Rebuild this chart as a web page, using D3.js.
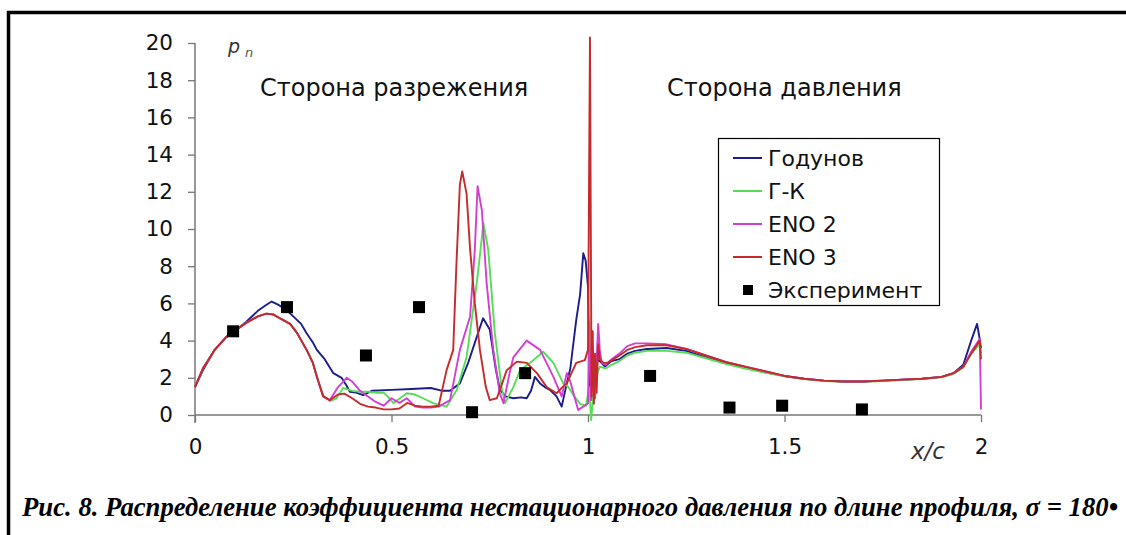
<!DOCTYPE html>
<html><head><meta charset="utf-8">
<script src="https://cdn.jsdelivr.net/npm/d3@7"></script>
<style>body{margin:0;background:#fff}svg{display:block}</style>
</head><body><svg id="c" width="1126" height="535"></svg>
<script>
const xTicks = [0, 0.5, 1, 1.5, 2];
const xTickLabels = ["0", "0.5", "1", "1.5", "2"];
const yTicks = [0, 2, 4, 6, 8, 10, 12, 14, 16, 18, 20];
const seriesNames = ["Годунов", "Г-К", "ENO 2", "ENO 3"];
const expName = "Эксперимент";

const godunov = [[0,1.5],[0.02,2.4],[0.05,3.5],[0.08,4.2],[0.1,4.5],[0.13,5.0],[0.16,5.6],[0.18,5.9],[0.195,6.1],[0.21,5.95],[0.23,5.7],[0.25,5.3],[0.27,4.9],[0.284,4.4],[0.3,3.9],[0.31,3.5],[0.33,3.0],[0.352,2.25],[0.373,2.0],[0.385,1.6],[0.394,1.25],[0.41,1.2],[0.428,1.07],[0.45,1.3],[0.5,1.35],[0.55,1.4],[0.6,1.45],[0.63,1.3],[0.649,1.3],[0.674,1.7],[0.695,2.8],[0.717,4.2],[0.733,5.2],[0.75,4.6],[0.765,2.5],[0.776,1.35],[0.79,1.0],[0.81,0.9],[0.83,0.95],[0.844,0.9],[0.855,1.3],[0.865,2.05],[0.878,1.7],[0.89,1.5],[0.903,1.35],[0.92,1.0],[0.933,0.45],[0.946,1.7],[0.955,2.5],[0.97,5.1],[0.98,6.5],[0.988,8.7],[0.994,8.3],[1.0,6.9],[1.003,3.0],[1.005,1.5],[1.01,2.4],[1.02,3.0],[1.03,2.9],[1.043,2.6],[1.06,2.9],[1.08,3.0],[1.1,3.3],[1.12,3.45],[1.15,3.55],[1.2,3.6],[1.25,3.45],[1.3,3.1],[1.35,2.8],[1.4,2.55],[1.45,2.3],[1.5,2.1],[1.55,1.95],[1.6,1.85],[1.65,1.8],[1.7,1.8],[1.75,1.85],[1.8,1.9],[1.85,1.95],[1.9,2.05],[1.93,2.25],[1.955,2.7],[1.975,4.0],[1.99,4.9],[1.995,4.3],[2.0,3.6]];

const gk = [[0,1.5],[0.02,2.5],[0.05,3.5],[0.08,4.2],[0.1,4.5],[0.13,4.95],[0.16,5.3],[0.182,5.45],[0.2,5.4],[0.22,5.15],[0.242,4.9],[0.26,4.4],[0.284,3.5],[0.3,2.8],[0.31,2.1],[0.326,1.05],[0.343,0.75],[0.36,0.9],[0.377,1.45],[0.4,1.3],[0.42,1.25],[0.44,1.25],[0.46,1.2],[0.48,1.2],[0.49,1.0],[0.505,0.64],[0.539,1.17],[0.56,1.1],[0.58,0.9],[0.606,0.64],[0.64,0.45],[0.666,1.34],[0.691,3.1],[0.717,7.1],[0.734,10.3],[0.746,8.9],[0.763,4.4],[0.78,1.5],[0.789,0.64],[0.81,1.5],[0.827,2.4],[0.861,2.95],[0.886,3.4],[0.912,2.8],[0.937,1.7],[0.95,1.5],[0.965,1.0],[0.98,0.6],[0.995,0.5],[1.003,1.5],[1.008,-0.27],[1.015,1.5],[1.02,2.0],[1.03,2.6],[1.045,2.5],[1.06,2.7],[1.08,2.9],[1.1,3.2],[1.12,3.35],[1.15,3.45],[1.2,3.45],[1.25,3.35],[1.3,3.05],[1.35,2.75],[1.4,2.5],[1.45,2.28],[1.5,2.08],[1.55,1.93],[1.6,1.83],[1.65,1.79],[1.7,1.79],[1.75,1.83],[1.8,1.88],[1.85,1.93],[1.9,2.03],[1.93,2.2],[1.955,2.55],[1.975,3.3],[1.997,3.8],[2.0,3.3]];

const eno2 = [[0,1.5],[0.02,2.5],[0.05,3.5],[0.08,4.2],[0.1,4.5],[0.13,4.95],[0.16,5.3],[0.182,5.45],[0.2,5.4],[0.22,5.15],[0.242,4.9],[0.26,4.4],[0.284,3.5],[0.3,2.8],[0.31,2.06],[0.326,1.0],[0.343,0.8],[0.364,1.5],[0.386,2.0],[0.4,1.8],[0.42,1.3],[0.44,1.0],[0.46,0.7],[0.48,0.5],[0.5,0.9],[0.52,0.65],[0.539,0.9],[0.56,0.45],[0.58,0.4],[0.6,0.4],[0.62,0.45],[0.649,0.8],[0.674,3.5],[0.7,5.3],[0.712,8.9],[0.719,12.3],[0.73,11],[0.742,7.1],[0.759,3.5],[0.775,1.2],[0.785,0.63],[0.8,2.2],[0.81,3.1],[0.844,4.0],[0.878,3.5],[0.912,2.05],[0.933,1.0],[0.946,2.25],[0.955,1.8],[0.963,1.17],[0.975,0.27],[0.988,0.45],[1.0,0.63],[1.003,5.0],[1.008,0.8],[1.013,3.5],[1.018,0.9],[1.022,3.0],[1.026,4.9],[1.03,3.5],[1.035,2.8],[1.045,2.7],[1.06,3.0],[1.08,3.3],[1.1,3.7],[1.12,3.85],[1.15,3.85],[1.2,3.8],[1.25,3.55],[1.3,3.2],[1.35,2.85],[1.4,2.6],[1.45,2.35],[1.5,2.1],[1.55,1.95],[1.6,1.85],[1.65,1.8],[1.7,1.8],[1.75,1.85],[1.8,1.9],[1.85,1.95],[1.9,2.05],[1.93,2.25],[1.955,2.6],[1.975,3.4],[1.997,4.1],[2.0,0.3]];

const eno3 = [[0,1.5],[0.02,2.5],[0.05,3.5],[0.08,4.2],[0.1,4.5],[0.13,4.95],[0.16,5.3],[0.182,5.45],[0.2,5.4],[0.22,5.15],[0.242,4.9],[0.26,4.4],[0.284,3.5],[0.3,2.8],[0.31,2.06],[0.326,1.0],[0.343,0.8],[0.364,1.1],[0.38,1.15],[0.4,0.9],[0.42,0.6],[0.44,0.45],[0.46,0.4],[0.48,0.3],[0.5,0.3],[0.52,0.35],[0.54,0.65],[0.56,0.5],[0.58,0.45],[0.6,0.45],[0.62,0.5],[0.64,2.4],[0.657,3.5],[0.665,8],[0.674,12.4],[0.68,13.1],[0.691,11.9],[0.7,8.9],[0.712,6],[0.725,3.5],[0.74,1.5],[0.75,0.8],[0.768,0.9],[0.78,1.6],[0.793,2.4],[0.819,2.87],[0.844,2.8],[0.87,2.25],[0.895,1.5],[0.92,1.17],[0.935,1.5],[0.946,1.7],[0.97,2.8],[0.992,2.95],[1.0,3.5],[1.005,20.3],[1.009,1.0],[1.012,4.5],[1.015,0.6],[1.018,3.3],[1.022,1.2],[1.026,3.8],[1.03,3.0],[1.039,2.8],[1.05,2.8],[1.08,3.2],[1.1,3.5],[1.12,3.65],[1.15,3.75],[1.2,3.75],[1.25,3.55],[1.3,3.2],[1.35,2.85],[1.4,2.6],[1.45,2.35],[1.5,2.1],[1.55,1.95],[1.6,1.85],[1.65,1.8],[1.7,1.8],[1.75,1.85],[1.8,1.9],[1.85,1.95],[1.9,2.05],[1.93,2.25],[1.955,2.6],[1.975,3.3],[1.997,4.0],[2.0,3.0]];

const expX = [0.097, 0.234, 0.435, 0.57, 0.705, 0.84, 1.158, 1.36, 1.494, 1.697];
const expY = [4.5, 5.8, 3.2, 5.8, 0.15, 2.25, 2.1, 0.4, 0.5, 0.3];

const colors = ["#1c1c8a", "#55dd55", "#d23fd2", "#c62a2a"];

const svg = d3.select("#c");
svg.append("rect").attr("width",1126).attr("height",535).attr("fill","#fff");
svg.append("path").attr("d","M8.5,535 V12.5 H1126").attr("fill","none").attr("stroke","#000").attr("stroke-width",3.5);

const x = d3.scaleLinear().domain([0,2]).range([195,981]);
const y = d3.scaleLinear().domain([0,20]).range([415,43]);

const font = "'DejaVu Sans', Verdana, sans-serif";

const yAxis = svg.append("g").attr("transform","translate(195,0)")
  .call(d3.axisLeft(y).tickValues(yTicks).tickSize(7).tickPadding(15).tickFormat(d3.format("d")));
yAxis.select(".domain").attr("stroke","#777").attr("stroke-width",1.5).attr("d","M0,43V423");
yAxis.selectAll(".tick line").attr("stroke","#777").attr("stroke-width",1.3);
yAxis.selectAll(".tick text").attr("font-family",font).attr("font-size",21.5).attr("fill","#111");

const xAxis = svg.append("g").attr("transform","translate(0,415)")
  .call(d3.axisBottom(x).tickValues(xTicks).tickSize(7).tickPadding(17).tickFormat((d,i)=>xTickLabels[i]));
xAxis.select(".domain").attr("stroke","#777").attr("stroke-width",1.5).attr("d","M195,0H981");
xAxis.selectAll(".tick line").attr("stroke","#777").attr("stroke-width",1.3);
xAxis.selectAll(".tick text").attr("font-family",font).attr("font-size",21.5).attr("fill","#111");

const line = d3.line().x(d=>x(d[0])).y(d=>y(d[1]));
[godunov, gk, eno2, eno3].forEach((s,i)=>{
  svg.append("path").datum(s).attr("d",line).attr("fill","none")
    .attr("stroke",colors[i]).attr("stroke-width",1.9).attr("stroke-linejoin","round");
});

svg.append("g").selectAll("rect").data(expX).join("rect")
  .attr("x",(d)=>x(d)-6).attr("y",(d,i)=>y(expY[i])-6).attr("width",12).attr("height",12).attr("fill","#000");

svg.append("text").attr("x",228).attr("y",53).attr("font-family",font).attr("font-style","italic")
  .attr("font-size",19).attr("fill","#333").text("p");
svg.append("text").attr("x",245).attr("y",57).attr("font-family",font).attr("font-style","italic")
  .attr("font-size",13).attr("fill","#555").text("n");
svg.append("text").attr("x",260).attr("y",96).attr("font-family",font).attr("font-size",24).attr("fill","#111").text("Сторона разрежения");
svg.append("text").attr("x",667).attr("y",96).attr("font-family",font).attr("font-size",24).attr("fill","#111").text("Сторона давления");
svg.append("text").attr("x",911).attr("y",459).attr("font-family",font).attr("font-style","italic").attr("font-size",23).attr("fill","#333").text("x/c");

const lg = svg.append("g");
lg.append("rect").attr("x",718.5).attr("y",138.5).attr("width",221).attr("height",167).attr("fill","#fff").attr("stroke","#000").attr("stroke-width",1.2);
const ly = [158, 191, 224, 257];
seriesNames.forEach((n,i)=>{
  lg.append("line").attr("x1",733).attr("x2",762).attr("y1",ly[i]).attr("y2",ly[i]).attr("stroke",colors[i]).attr("stroke-width",2);
  lg.append("text").attr("x",768).attr("y",ly[i]+8).attr("font-family",font).attr("font-size",22).attr("fill","#111").text(n);
});
lg.append("rect").attr("x",743).attr("y",285).attr("width",10).attr("height",10).attr("fill","#000");
lg.append("text").attr("x",768).attr("y",298).attr("font-family",font).attr("font-size",22).attr("fill","#111").text(expName);

svg.append("text").attr("x",22).attr("y",516).attr("font-family","'Liberation Serif'")
  .attr("font-weight","bold").attr("font-style","italic").attr("font-size",26.5).attr("fill","#000")
  .attr("textLength",1096).attr("lengthAdjust","spacingAndGlyphs")
  .text("Рис. 8. Распределение коэффициента нестационарного давления по длине профиля, σ = 180•");
</script></body></html>
